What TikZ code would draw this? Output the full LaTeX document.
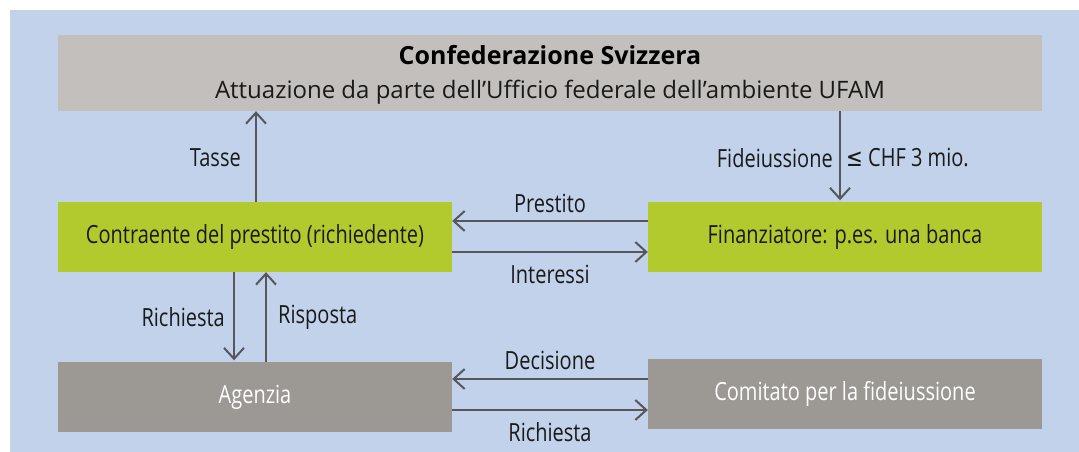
\documentclass[tikz,border=0pt]{standalone}
\usepackage{fontspec}
\setmainfont{Open Sans}
\newfontfamily\cond[FakeStretch=0.80]{Open Sans}
\newfontfamily\dejacond[FakeStretch=0.80]{DejaVu Sans}
\usetikzlibrary{arrows.meta}
\definecolor{bgblue}{HTML}{C1D2EA}
\definecolor{topgrey}{HTML}{C3BFBC}
\definecolor{lgreen}{HTML}{B2CA2E}
\definecolor{dgrey}{HTML}{9C9894}
\definecolor{arrgrey}{HTML}{55575D}
\definecolor{txt}{HTML}{1A1A1A}
\tikzset{
  box/.style={draw=none, inner sep=0pt, minimum width=394pt, minimum height=70pt, font=\cond\fontsize{25}{28}\selectfont},
  greenbox/.style={box, fill=lgreen, text=txt},
  greybox/.style={box, fill=dgrey, text=white},
  lbl/.style={inner sep=0pt, text=txt, font=\cond\fontsize{25}{28}\selectfont},
  arr/.style={draw=arrgrey, line width=2pt, -{Straight Barb[length=11pt,width=20pt,line width=2pt]}}
}
\begin{document}
\begin{tikzpicture}[x=1pt,y=-1pt]
\useasboundingbox (0,0) rectangle (1079,452);
\fill[bgblue] (10,10) rectangle (1079,452);
\node[fill=topgrey, inner sep=0pt, minimum width=984pt, minimum height=76pt] (top) at (550,73) {};
\node[inner sep=0pt, text=black, font=\bfseries\fontsize{25}{28}\selectfont] (title) at (550,55) {Confederazione Svizzera};
\node[inner sep=0pt, text=txt, font=\fontsize{24}{27}\selectfont] (sub) at (550,92) {Attuazione da parte dell’Ufficio federale dell’ambiente UFAM};
\node[greenbox] (contr) at (255,237) {Contraente del prestito (richiedente)};
\node[greenbox] (fin) at (845,237) {Finanziatore: p.es. una banca};
\node[greybox] (ag) at (255,397) {Agenzia};
\node[greybox] (com) at (845,394) {Comitato per la fideiussione};
\coordinate (tx) at (256,0);
\coordinate (fx) at (840,0);
\coordinate (rqx) at (234,0);
\coordinate (rsx) at (266,0);
\coordinate (py) at (0,221);
\coordinate (iy) at (0,252);
\coordinate (dy) at (0,379);
\coordinate (ry) at (0,410);
\draw[arr] (contr.north -| tx) -- (top.south -| tx);
\draw[arr, shorten >=1.5pt] (top.south -| fx) -- (fin.north -| fx);
\draw[arr, shorten >=1.5pt] (contr.south -| rqx) -- (ag.north -| rqx);
\draw[arr] (ag.north -| rsx) -- (contr.south -| rsx);
\draw[arr] (fin.west |- py) -- (contr.east |- py);
\draw[arr] (contr.east |- iy) -- (fin.west |- iy);
\draw[arr] (com.west |- dy) -- (ag.east |- dy);
\draw[arr] (ag.east |- ry) -- (com.west |- ry);
\node[lbl, anchor=east] (ltasse) at (241,158) {Tasse};
\node[lbl, anchor=east] (lfid) at (833,158) {Fideiussione};
\node[lbl, anchor=west] (lchf) at (846,158) {{\dejacond ≤} CHF 3 mio.};
\node[lbl] (lprest) at (550,203) {Prestito};
\node[lbl] (linter) at (550,274) {Interessi};
\node[lbl] (ldec) at (550,360) {Decisione};
\node[lbl] (lrich2) at (550,432) {Richiesta};
\node[lbl, anchor=east] (lrich) at (225,317) {Richiesta};
\node[lbl, anchor=west] (lrisp) at (278,317) {Risposta};
\end{tikzpicture}
\end{document}
